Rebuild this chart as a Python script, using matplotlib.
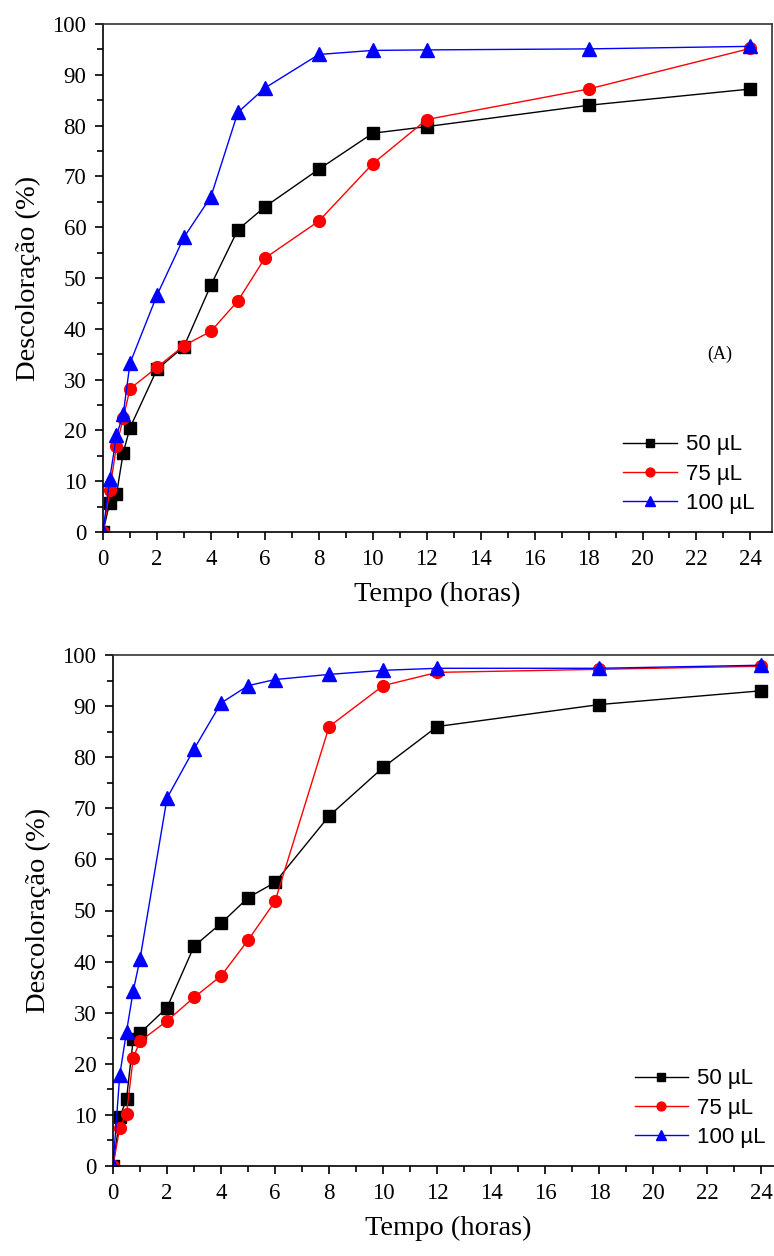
import matplotlib
matplotlib.use('Agg')
import matplotlib.pyplot as plt
from matplotlib.ticker import MultipleLocator

# time points (hours)
tempo = [0, 0.25, 0.5, 0.75, 1, 2, 3, 4, 5, 6, 8, 10, 12, 18, 24]

# panel A
a_50 = [0, 5.8, 7.4, 15.6, 20.5, 32.0, 36.5, 48.6, 59.5, 64.0, 71.4, 78.5, 79.8, 84.0, 87.2]
a_75 = [0, 8.2, 17.0, 22.4, 28.2, 32.4, 36.7, 39.5, 45.5, 53.9, 61.2, 72.5, 81.2, 87.2, 95.2]
a_100 = [0, 10.5, 19.0, 23.2, 33.2, 46.6, 58.0, 66.0, 82.6, 87.4, 94.0, 94.8, 94.9, 95.1, 95.6]

# panel B
b_50 = [0, 9.5, 13.1, 24.9, 26.0, 31.0, 43.0, 47.5, 52.5, 55.5, 68.5, 78.0, 86.0, 90.3, 93.0]
b_75 = [0, 7.5, 10.2, 21.2, 24.4, 28.4, 33.0, 37.2, 44.2, 51.8, 86.0, 94.0, 96.6, 97.2, 97.8]
b_100 = [0, 17.8, 26.3, 34.3, 40.5, 72.0, 81.6, 90.6, 94.0, 95.2, 96.2, 97.0, 97.4, 97.4, 98.0]

labels = ['50 \u00b5L', '75 \u00b5L', '100 \u00b5L']
xticks = list(range(0, 25, 2))
yticks = list(range(0, 101, 10))

serif = ['Liberation Serif', 'DejaVu Serif']
sans = ['Liberation Sans', 'DejaVu Sans']


def draw_panel(ax, s50, s75, s100):
    ax.plot(tempo, s50, '-s', color='black', lw=1, ms=8.5, label=labels[0])
    ax.plot(tempo, s75, '-o', color='red', lw=1, ms=8.5, label=labels[1])
    ax.plot(tempo, s100, '-^', color='blue', lw=1, ms=9.5, label=labels[2])

    ax.set_xlim(0, 24.8)
    ax.set_ylim(0, 100)
    ax.set_xticks(xticks)
    ax.set_yticks(yticks)
    ax.xaxis.set_minor_locator(MultipleLocator(1))
    ax.yaxis.set_minor_locator(MultipleLocator(5))
    ax.tick_params(which='major', direction='out', length=6, width=1.2,
                   labelsize=16.5, pad=6, top=False, right=False)
    ax.tick_params(which='minor', direction='out', length=4, width=1.2,
                   top=False, right=False)
    for lab in ax.get_xticklabels() + ax.get_yticklabels():
        lab.set_family(serif)
    for sp in ax.spines.values():
        sp.set_linewidth(1.2)
        sp.set_color('#333333')
    ax.spines['left'].set_color('black')
    ax.spines['bottom'].set_color('black')

    ax.set_xlabel('Tempo (horas)', family=serif, fontsize=20.5, labelpad=9)
    ax.set_ylabel('Descoloração (%)', family=serif, fontsize=20.5, labelpad=8)

    ax.legend(loc='lower right', frameon=False, prop={'family': sans, 'size': 16},
              handlelength=2.4, handletextpad=0.4, markerscale=0.75,
              labelspacing=0.38, borderaxespad=0.4)


fig = plt.figure(figsize=(7.74, 12.56), dpi=100)

ax1 = fig.add_axes([103 / 774, 1 - 532 / 1256, 669 / 774, 508 / 1256])
draw_panel(ax1, a_50, a_75, a_100)
ax1.text(22.85, 35.0, '(A)', family=serif, fontsize=13, ha='center', va='center')

ax2 = fig.add_axes([113 / 774, 1 - 1166 / 1256, 670 / 774, 511 / 1256])
draw_panel(ax2, b_50, b_75, b_100)

fig.savefig('out.png', dpi=100)
